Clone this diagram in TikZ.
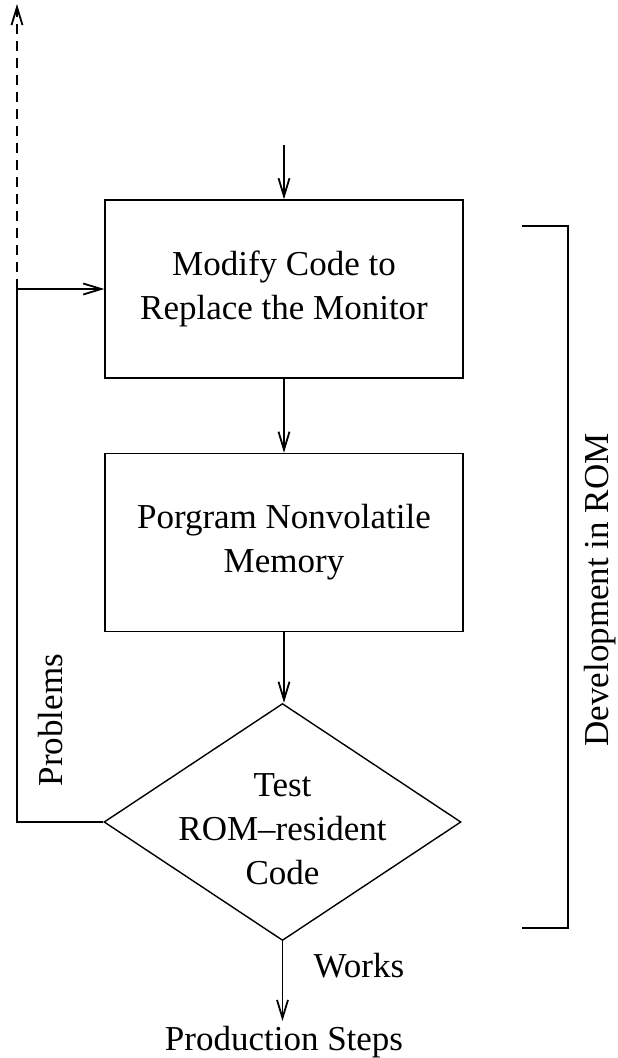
\documentclass[tikz,border=0pt]{standalone}
\usepackage{fontspec}
\setmainfont{Liberation Serif}
\usetikzlibrary{arrows.meta,shapes.geometric}
\begin{document}
\begin{tikzpicture}[x=1pt,y=-1pt,
  line width=1.4pt,
  arr/.style={-{Straight Barb[length=18pt,width=11pt,line width=1.8pt]}},
  txt/.style={font=\fontsize{35}{44}\selectfont, align=center},
  procbox/.style={draw, rectangle, minimum width=358pt, minimum height=178pt, inner sep=0pt, txt},
  decision/.style={draw, diamond, minimum width=357pt, minimum height=237pt, inner sep=0pt}]
\useasboundingbox (0,0) rectangle (618,1058);
\node[procbox] (box1) at (284,289) {Modify Code to\\Replace the Monitor};
\node[procbox] (box2) at (284,542.5) {Porgram Nonvolatile\\Memory};
\node[decision] (dia) at (282.5,822) {};
\node[txt] (diatext) at (282.5,829.5) {Test\\ROM--resident\\Code};
\node[txt, anchor=base, inner sep=4pt] (prod) at (284,1050) {Production Steps};
\node[txt, anchor=base west, inner sep=0pt] (works) at (313,977) {Works};
\node[txt, rotate=90, inner sep=0pt] (probl) at (51,720) {Problems};
\node[txt, rotate=90, inner sep=0pt] (devrom) at (600,590) {Development in ROM};
\coordinate (start) at (284,145);
\coordinate (fb) at (17,289);
\coordinate (fbtop) at (17,4);
\coordinate (brtop) at (522,226);
\coordinate (brbot) at (522,928);
\draw[arr] (start) -- (box1.north);
\draw[arr] (box1.south) -- (box2.north);
\draw[arr] (box2.south) -- (box2.south |- dia.north);
\draw[arr] (dia.south) -- (dia.south |- prod.north);
\draw[arr] (dia.west) -| (fb) -- (box1.west);
\draw[arr, dash pattern=on 10pt off 7pt] (fb) -- (fbtop);
\draw (brtop) -- ++(46,0) |- (brbot);
\end{tikzpicture}
\end{document}
